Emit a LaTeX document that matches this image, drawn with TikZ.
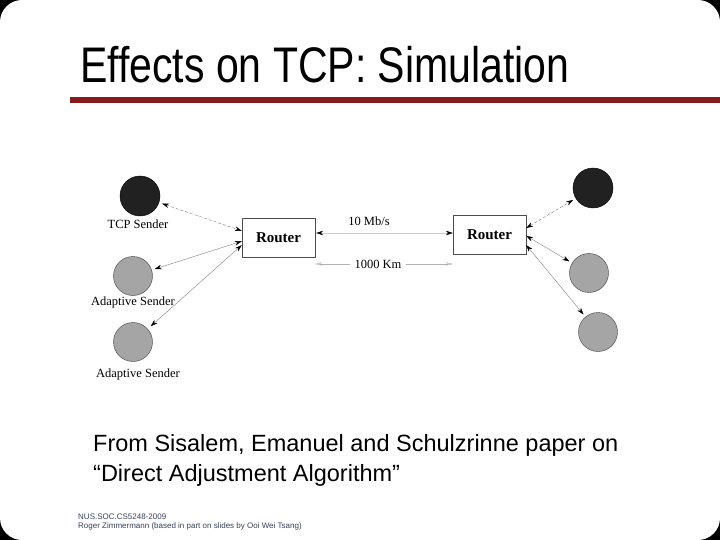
\documentclass[tikz,border=0pt]{standalone}
\usepackage{fontspec}
\setmainfont{Liberation Serif}
\newfontfamily\titlefont[FakeStretch=0.82]{Liberation Sans}
\newfontfamily\slidefont{Liberation Sans}
\usetikzlibrary{arrows.meta}
\definecolor{barred}{RGB}{133,27,27}
\definecolor{footgray}{RGB}{55,65,90}
\definecolor{nodegray}{RGB}{165,165,165}

\begin{document}
\begin{tikzpicture}[x=1pt, y=-1pt]
  \tikzstyle{router} = [rectangle, draw=black!70, fill=white, minimum width=73, minimum height=39, font=\fontsize{15}{17}\selectfont\bfseries]
  \tikzstyle{tcphost} = [circle, draw=black, fill=black!87, minimum size=40, inner sep=0]
  \tikzstyle{adaphost} = [circle, draw=black!75, fill=nodegray, minimum size=39, inner sep=0]
  \tikzstyle{hostlabel} = [font=\fontsize{12.5}{14}\selectfont, inner sep=0]
  \tikzstyle{link} = [black!50, thin, {Stealth[length=7,width=4.5,black]}-{Stealth[length=7,width=4.5,black]}]

  % Slide
  \fill[black] (0,0) rectangle (720,540);
  \fill[white, rounded corners=22] (0,0) rectangle (720,540);
  \node (title) [anchor=base west, inner sep=0] at (80,83) {\titlefont\fontsize{50}{56}\selectfont Effects on TCP: Simulation};
  \fill[barred] (70,97) rectangle (720,103);

  % Routers
  \node (routerL) [router] at (278.5,238) {Router};
  \node (routerR) [router] at (489.5,234.5) {Router};

  % Hosts
  \node (tcpL) [tcphost] at (140,196) {};
  \node (adapL1) [adaphost] at (133,276) {};
  \node (adapL2) [adaphost] at (133,342) {};
  \node (tcpR) [tcphost] at (593,188) {};
  \node (adapR1) [adaphost] at (589,273) {};
  \node (adapR2) [adaphost] at (598,332) {};

  \node (tcpLab) [hostlabel] at (138,224) {TCP Sender};
  \node (adap1Lab) [hostlabel] at (133,302) {Adaptive Sender};
  \node (adap2Lab) [hostlabel] at (138,374) {Adaptive Sender};

  % Bottleneck link
  \draw[black!20, {Stealth[length=7,width=4.5,black]}-{Stealth[length=7,width=4.5,black]}] (routerL.east) ++(1,-5) coordinate (linkL) -- (linkL -| routerR.west);
  \node (rate) [hostlabel] at (369,221) {10 Mb/s};
  \node (dist) [hostlabel, fill=white, inner xsep=4] at (378,264) {1000 Km};
  \coordinate (distL) at (routerL.east |- dist);
  \coordinate (distR) at (routerR.west |- dist);
  \draw[black!30, {Stealth[length=7,width=3.5,open]}-] (distL) -- (dist);
  \draw[black!30, -{Stealth[length=7,width=3.5,open]}] (dist) -- (distR);

  % Access links
  \draw[link, densely dashed, shorten <=3] (tcpL) -- (routerL.169);
  \draw[link, shorten <=3] (adapL1) -- (routerL.185);
  \draw[link, shorten <=4] (adapL2) -- (routerL.191);
  \draw[link, densely dashed, shorten >=3] (routerR.10) -- (tcpR);
  \draw[link, shorten >=3] (routerR.-2) -- (adapR1);
  \draw[link, shorten >=3] (routerR.-16) -- (adapR2);

  % Caption
  \node (caption) [anchor=base west, inner sep=0, align=left, font=\slidefont\fontsize{23.5}{30}\selectfont] at (93,481) {From Sisalem, Emanuel and Schulzrinne paper on\\“Direct Adjustment Algorithm”};
  \node (footer) [anchor=base west, inner sep=0, align=left, text=footgray, font=\slidefont\fontsize{8}{9}\selectfont] at (78,528) {NUS.SOC.CS5248-2009\\Roger Zimmermann (based in part on slides by Ooi Wei Tsang)};
\end{tikzpicture}
\end{document}
